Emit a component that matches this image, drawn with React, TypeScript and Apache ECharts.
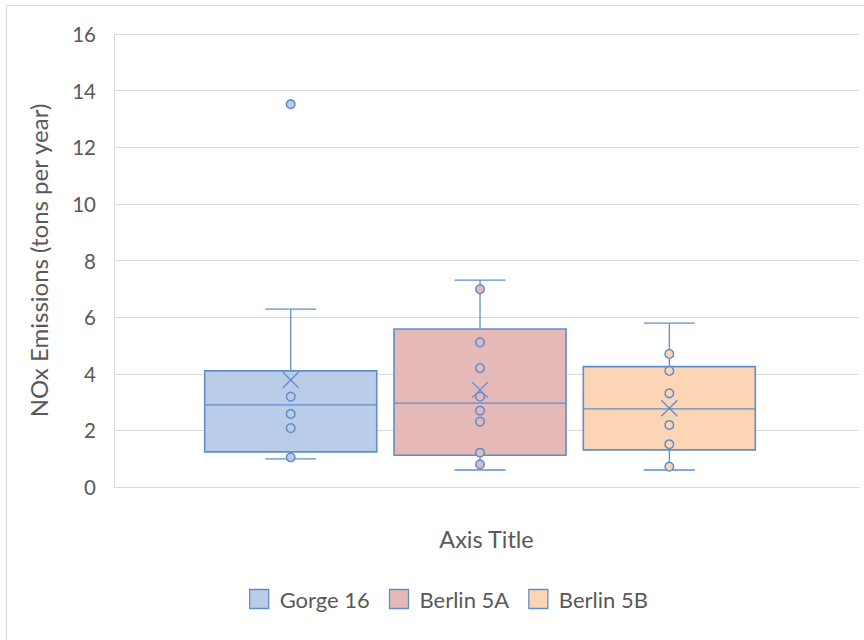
import React, { useEffect, useRef } from 'react';
import * as echarts from 'echarts';

const CATEGORIES = ['1'];
const SERIES_NAMES = ['Gorge 16', 'Berlin 5A', 'Berlin 5B'];
const WHISKER_LOW = [0.99, 0.6, 0.6];
const Q1 = [1.24, 1.12, 1.31];
const MEDIAN = [2.9, 2.96, 2.76];
const Q3 = [4.1, 5.58, 4.25];
const WHISKER_HIGH = [6.28, 7.31, 5.79];
const MEAN = [3.78, 3.43, 2.78];
const POINTS_GORGE_16 = [13.52, 3.19, 2.58, 2.08, 1.05];
const POINTS_BERLIN_5A = [6.99, 5.11, 4.2, 3.19, 2.7, 2.31, 1.21, 0.8];
const POINTS_BERLIN_5B = [4.7, 4.1, 3.31, 2.19, 1.51, 0.72];
const POINTS = [POINTS_GORGE_16, POINTS_BERLIN_5A, POINTS_BERLIN_5B];
const Y_MIN = 0;
const Y_MAX = 16;
const Y_INTERVAL = 2;

const FILLS = ['#B9CDE9', '#E5B9B8', '#FCD5B4'];
const EDGE = '#5F8FCB';
const GRID_COLOR = '#D9D9D9';
const TEXT_COLOR = '#595959';
const FONT = 'Lato';
const CENTER_FRAC = [0.2372, 0.4913, 0.7454];
const BOX_FRAC = 0.2309;
const CAP_FRAC = 0.0685;

export default function App() {
  const ref = useRef<HTMLDivElement>(null);

  useEffect(() => {
    const chart = echarts.init(ref.current!, null, { renderer: 'svg' });

    const renderItem = (params: any, api: any) => {
      const i = params.seriesIndex;
      const cat = api.value(0);
      const c = api.coord([cat, 0]);
      const band = api.size([1, 0])[0];
      const left = c[0] - band / 2;
      const cx = left + band * CENTER_FRAC[i];
      const hw = (band * BOX_FRAC) / 2;
      const hc = (band * CAP_FRAC) / 2;
      const y = (v: number) => api.coord([cat, v])[1];
      const yLow = y(api.value(1));
      const yQ1 = y(api.value(2));
      const yMed = y(api.value(3));
      const yQ3 = y(api.value(4));
      const yHigh = y(api.value(5));
      const yMean = y(api.value(6));
      const lineStyle = { stroke: EDGE, lineWidth: 1.3, fill: 'none' };
      const children: any[] = [
        { type: 'line', shape: { x1: cx, y1: yHigh, x2: cx, y2: yQ3 }, style: lineStyle },
        { type: 'line', shape: { x1: cx, y1: yQ1, x2: cx, y2: yLow }, style: lineStyle },
        { type: 'line', shape: { x1: cx - hc, y1: yHigh, x2: cx + hc, y2: yHigh }, style: lineStyle },
        { type: 'line', shape: { x1: cx - hc, y1: yLow, x2: cx + hc, y2: yLow }, style: lineStyle },
        {
          type: 'rect',
          shape: { x: cx - hw, y: yQ3, width: hw * 2, height: yQ1 - yQ3 },
          style: { fill: FILLS[i], stroke: EDGE, lineWidth: 1.6 },
        },
        { type: 'line', shape: { x1: cx - hw, y1: yMed, x2: cx + hw, y2: yMed }, style: lineStyle },
      ];
      POINTS[i].forEach((p) => {
        children.push({
          type: 'circle',
          shape: { cx, cy: y(p), r: 4.3 },
          style: { fill: FILLS[i], stroke: EDGE, lineWidth: 1.5 },
        });
      });
      const m = 8;
      children.push(
        { type: 'line', shape: { x1: cx - m, y1: yMean - m, x2: cx + m, y2: yMean + m }, style: lineStyle },
        { type: 'line', shape: { x1: cx - m, y1: yMean + m, x2: cx + m, y2: yMean - m }, style: lineStyle }
      );
      return { type: 'group', children };
    };

    const series = SERIES_NAMES.map((name, i) => ({
      name,
      type: 'custom',
      renderItem,
      itemStyle: { color: FILLS[i], borderColor: EDGE, borderWidth: 1.3 },
      encode: { x: 0, y: [1, 2, 3, 4, 5, 6] },
      data: [[0, WHISKER_LOW[i], Q1[i], MEDIAN[i], Q3[i], WHISKER_HIGH[i], MEAN[i]]],
      clip: false,
    }));

    chart.setOption({
      animation: false,
      backgroundColor: '#ffffff',
      textStyle: { fontFamily: FONT },
      graphic: [
        {
          type: 'rect',
          silent: true,
          z: -10,
          shape: { x: 6.5, y: 5.5, width: 1000, height: 1000 },
          style: { fill: 'none', stroke: GRID_COLOR, lineWidth: 1 },
        },
      ],
      grid: { left: 114, right: 5, top: 34, bottom: 153, containLabel: false },
      xAxis: {
        type: 'category',
        data: CATEGORIES,
        axisLine: { show: true, lineStyle: { color: GRID_COLOR, width: 1 } },
        axisTick: { show: false },
        axisLabel: { show: false },
        splitLine: { show: false },
        name: 'Axis Title',
        nameLocation: 'middle',
        nameGap: 40,
        nameTextStyle: { fontFamily: FONT, fontSize: 23.5, color: TEXT_COLOR },
      },
      yAxis: {
        type: 'value',
        min: Y_MIN,
        max: Y_MAX,
        interval: Y_INTERVAL,
        axisLine: { show: true, lineStyle: { color: GRID_COLOR, width: 1 } },
        axisTick: { show: false },
        axisLabel: { fontFamily: FONT, fontSize: 20.5, color: TEXT_COLOR, margin: 18 },
        splitLine: { show: true, lineStyle: { color: GRID_COLOR, width: 1 } },
        name: 'NOx Emissions (tons per year)',
        nameLocation: 'middle',
        nameRotate: 90,
        nameGap: 64,
        nameTextStyle: { fontFamily: FONT, fontSize: 24, color: TEXT_COLOR },
      },
      legend: {
        left: 249,
        top: 588,
        padding: 0,
        icon: 'rect',
        itemWidth: 19,
        itemHeight: 19,
        itemGap: 19,
        textStyle: { fontFamily: FONT, fontSize: 22, color: TEXT_COLOR, padding: [0, 0, 0, 6] },
        data: SERIES_NAMES.map((n, i) => ({
          name: n,
          itemStyle: { color: FILLS[i], borderColor: EDGE, borderWidth: 1.3 },
        })),
      },
      series,
    });

    return () => chart.dispose();
  }, []);

  return (
    <div
      ref={ref}
      style={{ position: 'fixed', left: 0, top: 0, width: 864, height: 640, background: '#fff' }}
    />
  );
}
